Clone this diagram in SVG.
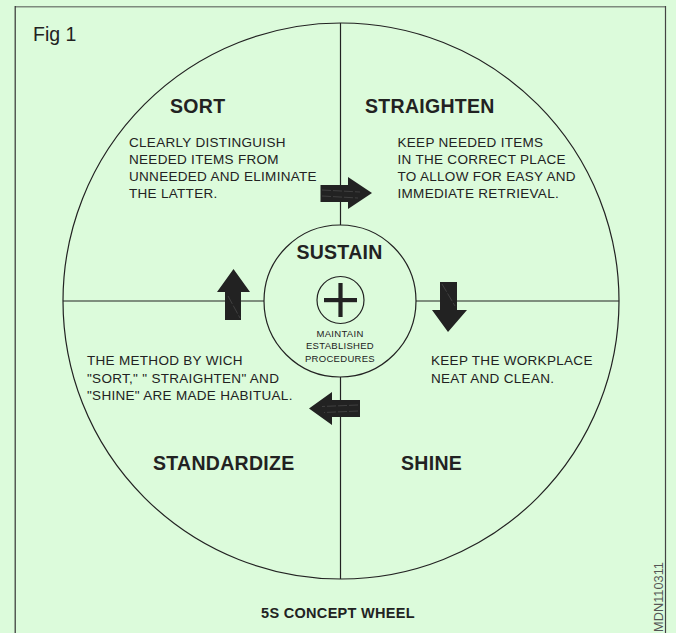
<svg xmlns="http://www.w3.org/2000/svg" width="676" height="633" viewBox="0 0 676 633">
  <style>
    .ln { fill: none; stroke: #222; stroke-width: 1.2; }
    .head { font-family: "Liberation Sans", Arial, sans-serif; font-weight: bold; font-size: 19.5px; fill: #222; letter-spacing: 0.3px; }
    .body { font-family: "Liberation Sans", Arial, sans-serif; font-size: 13.5px; fill: #222; letter-spacing: 0.3px; }
    .small { font-family: "Liberation Sans", Arial, sans-serif; font-size: 9.5px; fill: #222; letter-spacing: 0.3px; text-anchor: middle; }
    .arrow { fill: #222; }
    .streak { fill: none; stroke: #6a6a6a; stroke-width: 0.6; stroke-dasharray: 9 2; opacity: 0.7; }
  </style>

  <!-- page -->
  <rect x="0" y="0" width="676" height="633" fill="#dcfbdb"/>
  <line x1="15" y1="6.8" x2="665.5" y2="6.8" stroke="#7e8a7e" stroke-width="1.6"/>
  <line x1="15.2" y1="6" x2="15.2" y2="633" stroke="#333" stroke-width="1.2"/>
  <line x1="665.5" y1="6" x2="665.5" y2="633" stroke="#444" stroke-width="1.2"/>

  <text x="33" y="40.5" font-family="'Liberation Sans', Arial, sans-serif" font-size="19.5" fill="#222">Fig 1</text>

  <!-- wheel outline and dividers -->
  <g id="wheel">
    <circle class="ln" cx="341" cy="301" r="278"/>
    <line class="ln" x1="340.5" y1="23" x2="340.5" y2="225"/>
    <line class="ln" x1="340.5" y1="377" x2="340.5" y2="579"/>
    <line class="ln" x1="63" y1="301" x2="264" y2="301"/>
    <line class="ln" x1="416" y1="301" x2="619" y2="301"/>
  </g>

  <g id="sort">
    <text class="head" x="170" y="113">SORT</text>
    <text class="body" x="129" y="147">CLEARLY DISTINGUISH</text>
    <text class="body" x="129" y="164">NEEDED ITEMS FROM</text>
    <text class="body" x="129" y="181.2">UNNEEDED AND ELIMINATE</text>
    <text class="body" x="129" y="198.4">THE LATTER.</text>
  </g>

  <g id="straighten">
    <text class="head" x="365" y="113">STRAIGHTEN</text>
    <text class="body" x="397.5" y="147">KEEP NEEDED ITEMS</text>
    <text class="body" x="397.5" y="164">IN THE CORRECT PLACE</text>
    <text class="body" x="397.5" y="181.2">TO ALLOW FOR EASY AND</text>
    <text class="body" x="397.5" y="198.4">IMMEDIATE RETRIEVAL.</text>
  </g>

  <g id="shine">
    <text class="body" x="431" y="365">KEEP THE WORKPLACE</text>
    <text class="body" x="431" y="382.5">NEAT AND CLEAN.</text>
    <text class="head" x="401" y="470">SHINE</text>
  </g>

  <g id="standardize">
    <text class="body" x="87" y="365">THE METHOD BY WICH</text>
    <text class="body" x="87" y="382.5">"SORT," " STRAIGHTEN" AND</text>
    <text class="body" x="87" y="400">"SHINE" ARE MADE HABITUAL.</text>
    <text class="head" x="153" y="470">STANDARDIZE</text>
  </g>

  <g id="sustain">
    <circle class="ln" cx="340" cy="301" r="76"/>
    <text class="head" x="339.5" y="259.3" text-anchor="middle">SUSTAIN</text>
    <circle class="ln" cx="340.5" cy="300" r="23.5"/>
    <rect x="324" y="298" width="33" height="4.2" fill="#222"/>
    <rect x="338.4" y="283" width="4.2" height="34" fill="#222"/>
    <text class="small" x="340" y="336.7">MAINTAIN</text>
    <text class="small" x="340" y="349.3">ESTABLISHED</text>
    <text class="small" x="340" y="361.8">PROCEDURES</text>
  </g>

  <!-- cycle arrows between the four quadrants -->
  <g id="connectors">
    <polygon class="arrow" points="320.5,185 348,185 348,177 372,193 348,209 348,202 320.5,202"/>
    <path class="streak" d="M322,190 L360,192 M322,196 L358,198"/>

    <polygon class="arrow" points="448,282 457,282 457,310 467,310 448,332 432,310 440,310 440,282"/>
    <path class="streak" d="M442,284 L455,306"/>

    <polygon class="arrow" points="360,400 332,400 332,392 309,408.5 332,425 332,417 360,417"/>
    <path class="streak" d="M358,405 L322,406.5 M358,411 L324,412.5"/>

    <polygon class="arrow" points="225,320 225,292 217,292 233.5,269 250,292 241,292 241,320"/>
    <path class="streak" d="M228,296 L240,318"/>
  </g>

  <text x="338" y="618.3" text-anchor="middle" font-family="'Liberation Sans', Arial, sans-serif" font-weight="bold" font-size="14.5" fill="#222" letter-spacing="0.3">5S CONCEPT WHEEL</text>

  <text transform="translate(662.5,632) rotate(-90)" font-family="'Liberation Sans', Arial, sans-serif" font-size="12.8" fill="#555">MDN110311</text>
</svg>
